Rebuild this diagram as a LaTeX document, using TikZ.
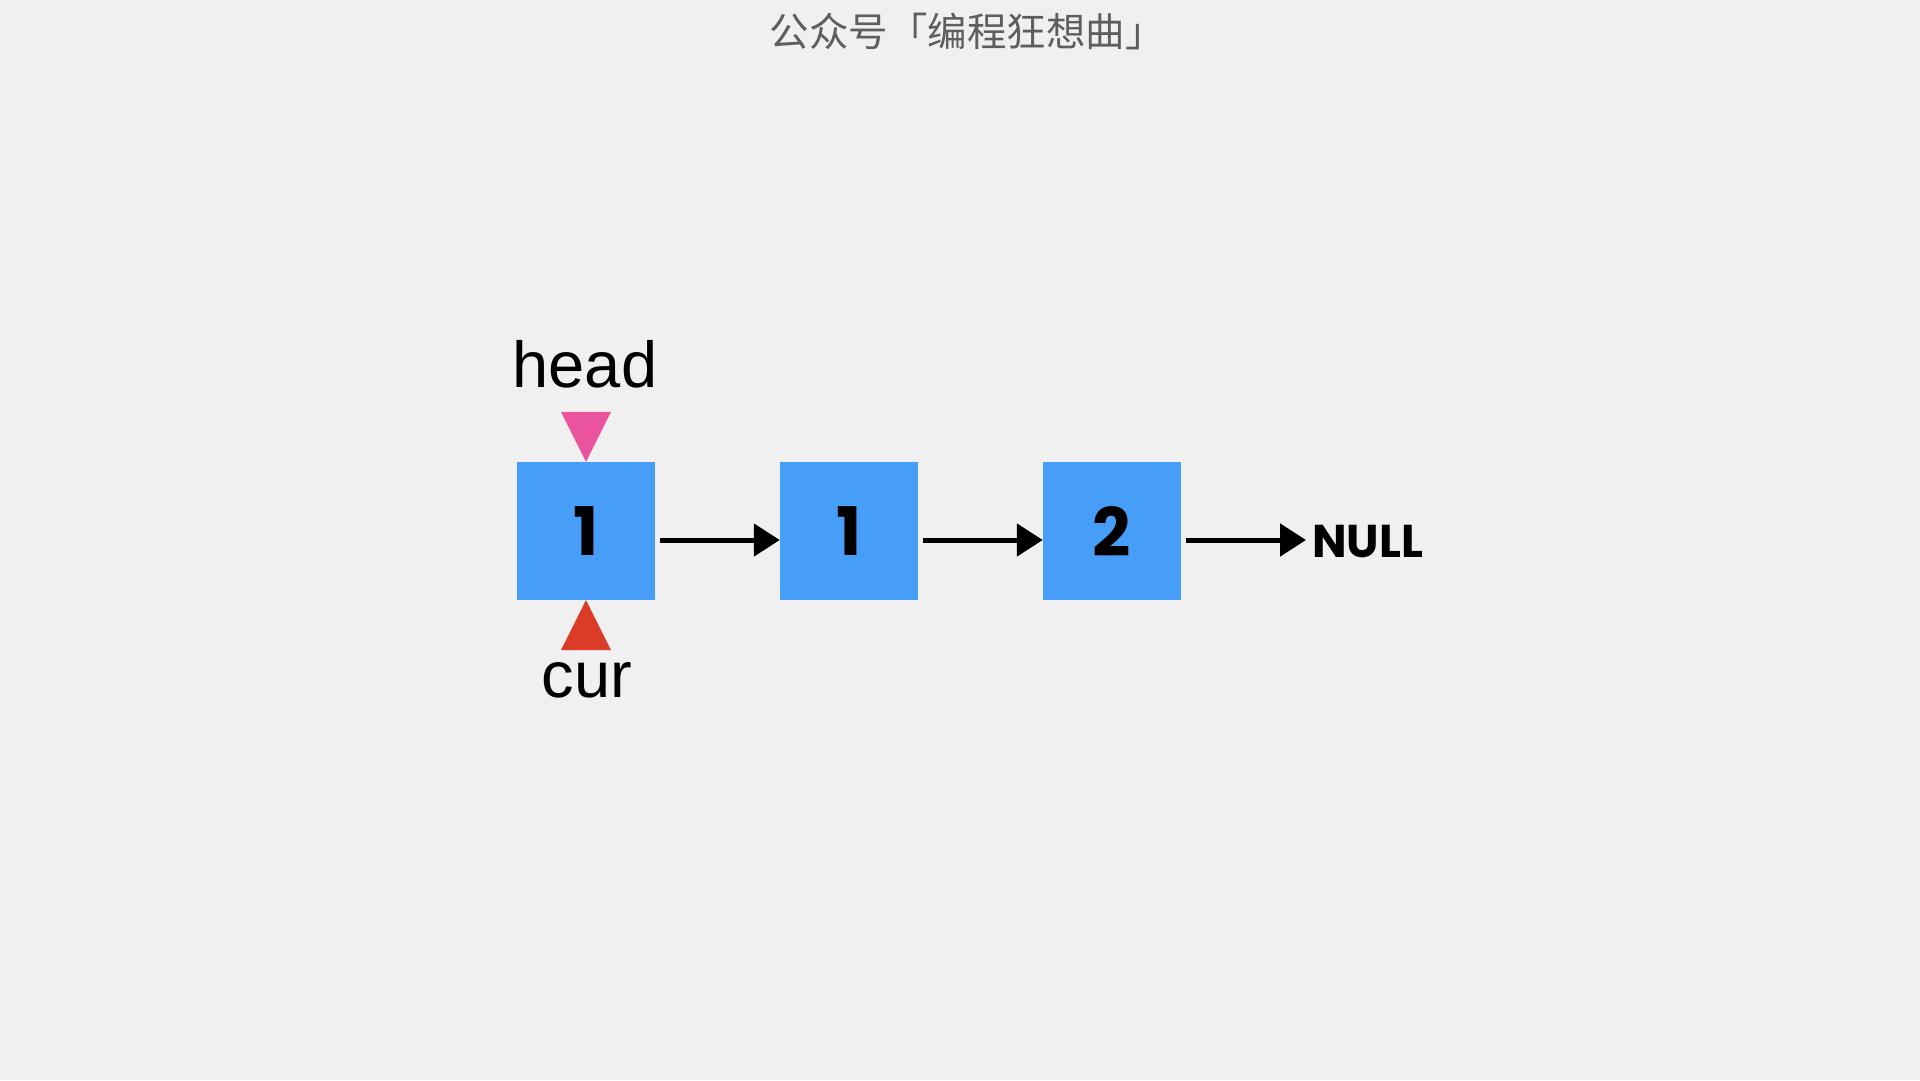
\documentclass[tikz,border=0pt]{standalone}
\usepackage{fontspec}
\setmainfont{Liberation Sans}
\newfontfamily\cjk{Noto Sans CJK SC}
\newfontfamily\pop{Poppins}
\usetikzlibrary{arrows.meta,calc}
\definecolor{bgc}{HTML}{F0F0F0}
\definecolor{boxc}{HTML}{479EF8}
\definecolor{headc}{HTML}{EA539E}
\definecolor{curc}{HTML}{DB3C27}
\definecolor{titlec}{HTML}{5E5E62}
\begin{document}
\begin{tikzpicture}[x=1pt,y=-1pt,
  listbox/.style={fill=boxc,minimum width=138pt,minimum height=138pt,inner sep=0pt,
    font=\pop\bfseries\fontsize{67}{67}\selectfont},
  link/.style={line width=5pt,-{Triangle[length=26pt,width=32pt]}},
  ptrlabel/.style={anchor=base,font=\fontsize{65}{65}\selectfont}]
\fill[bgc] (0,0) rectangle (1920,1080);
\useasboundingbox (0,0) rectangle (1920,1080);
\node[font=\cjk\fontsize{39.5}{39.5}\selectfont,text=titlec] (title) at (967,31) {公众号「编程狂想曲」};
\node[listbox] (b1) at (586,531) {1};
\node[listbox] (b2) at (849,531) {1};
\node[listbox] (b3) at (1112,531) {2};
\node[anchor=base west,inner sep=0pt,font=\pop\bfseries\fontsize{46}{46}\selectfont] (null) at (1312,557) {NULL};
\draw[link] ([xshift=5pt,yshift=-9pt]b1.east) -- ([yshift=-9pt]b2.west);
\draw[link] ([xshift=5pt,yshift=-9pt]b2.east) -- ([yshift=-9pt]b3.west);
\draw[link] ([xshift=5pt,yshift=-9pt]b3.east) -- ([xshift=-6pt,yshift=-9pt]null.west |- b3.east);
\node[ptrlabel] (head) at (585,387) {head};
\node[ptrlabel] (cur) at (587,697) {cur};
\fill[headc] ($(b1.north)+(-25,-50)$) -- ($(b1.north)+(25,-50)$) -- (b1.north) -- cycle;
\fill[curc] ($(b1.south)+(-25,50)$) -- ($(b1.south)+(25,50)$) -- (b1.south) -- cycle;
\end{tikzpicture}
\end{document}
